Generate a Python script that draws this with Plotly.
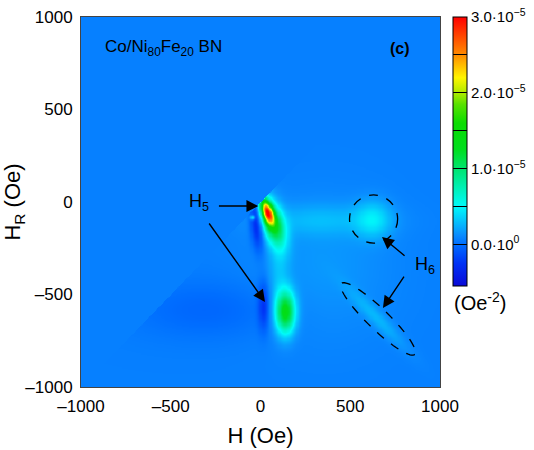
import numpy as np
import plotly.graph_objects as go

# ---------------- data (values in units of 1e-5 Oe^-2) ----------------
H_axis = np.linspace(-1000, 1000, 321)      # applied field H (Oe)
HR_axis = np.linspace(-1000, 1000, 321)     # reversal field H_R (Oe)
background_level = 0.07

# FORC features: centre H, centre H_R, amplitude,
# sigma along major axis, sigma along minor axis, major-axis angle (deg)
feat_H      = [35,   62,   -25,   15,   136,  -47,  330,  625,  100,  645,  350,  -300]
feat_HR     = [-50, -105, -110, -560,  -592,  -81,  -95,  -92, -330, -625, -350,  -580]
feat_amp    = [2.0,  1.15, -0.5, -0.3,  1.25, 0.55, 0.17, 0.3,  0.18, 0.17, 0.09, -0.1]
feat_smaj   = [48,   90,   95,    90,    80,   9,   240,   70,  170,  160,  260,   300]
feat_smin   = [21,   40,   24,    22,    38,   9,    60,   70,   40,   28,  260,   110]
feat_angle  = [-70, -72,  -85,  -90,   -90,   0,     0,    0,  -90,  -45,    0,     0]

x_ticks = [-1000, -500, 0, 500, 1000]
y_ticks = [-1000, -500, 0, 500, 1000]
cb_tickvals = [0, 0.5, 1.0, 1.5, 2.0, 2.5, 3.0]
cb_ticktext = ["0.0·10<sup>0</sup>", "", "1.0·10<sup>−5</sup>", "", "2.0·10<sup>−5</sup>", "", "3.0·10<sup>−5</sup>"]
z_min, z_max = -0.55, 3.0

# ---------------- build field ----------------
HH, RR = np.meshgrid(H_axis, HR_axis)
Z = np.full(HH.shape, background_level)
for hc, rc, a, smj, smn, ang in zip(feat_H, feat_HR, feat_amp, feat_smaj, feat_smin, feat_angle):
    t = np.deg2rad(ang)
    dx, dy = HH - hc, RR - rc
    u = dx * np.cos(t) + dy * np.sin(t)
    v = -dx * np.sin(t) + dy * np.cos(t)
    Z += a * np.exp(-0.5 * ((u / smj) ** 2 + (v / smn) ** 2))
Z[RR > HH] = background_level
Z = np.round(Z, 3)

def rgb(p, r, g, b):
    return [p, f"rgb({r},{g},{b})"]

def pos(v):
    return (v - z_min) / (z_max - z_min)

colorscale = [
    rgb(0.0, 10, 10, 215),
    rgb(pos(-0.25), 0, 50, 245),
    rgb(pos(0.0), 0, 110, 255),
    rgb(pos(0.12), 10, 140, 255),
    rgb(pos(0.5), 0, 250, 250),
    rgb(pos(0.75), 0, 240, 180),
    rgb(pos(1.0), 0, 228, 110),
    rgb(pos(1.25), 0, 222, 30),
    rgb(pos(1.6), 10, 220, 0),
    rgb(pos(1.85), 90, 225, 0),
    rgb(pos(2.0), 175, 235, 0),
    rgb(pos(2.2), 255, 245, 0),
    rgb(pos(2.5), 255, 140, 0),
    rgb(pos(2.75), 255, 70, 0),
    rgb(1.0, 255, 0, 0),
]

fig = go.Figure()
fig.add_trace(go.Heatmap(
    x=H_axis, y=HR_axis, z=Z, zmin=z_min, zmax=z_max, zsmooth="best",
    colorscale=colorscale, hoverinfo="skip",
    colorbar=dict(
        x=1.036, xanchor="left", xref="paper", y=1.0, yanchor="top",
        xpad=0, ypad=0,
        thickness=14, thicknessmode="pixels", len=269, lenmode="pixels",
        outlinecolor="black", outlinewidth=1,
        tickmode="array", tickvals=cb_tickvals, ticktext=cb_ticktext,
        ticks="inside", ticklen=14, tickcolor="black", tickwidth=1,
        tickfont=dict(size=15, color="black"),
    ),
))

font_family = "Liberation Sans, Arial, sans-serif"

# dashed circle around upper H6 feature
circ_H, circ_HR, circ_rH, circ_rHR = 630, -92, 134, 130
# dashed ellipse around lower H6 feature (pixel-space semi-axes and angle)
ell_H, ell_HR, ell_a_px, ell_b_px, ell_ang = 655, -632, 51, 10.5, 44
px_H, px_HR = 2000 / 359, 2000 / 370

shapes = [dict(type="circle", xref="x", yref="y",
               x0=circ_H - circ_rH, x1=circ_H + circ_rH,
               y0=circ_HR - circ_rHR, y1=circ_HR + circ_rHR,
               line=dict(color="black", width=1.3, dash="dash"))]
phi = np.linspace(0, 2 * np.pi, 73)
ang = np.deg2rad(ell_ang)
dxp = ell_a_px * np.cos(phi) * np.cos(ang) - ell_b_px * np.sin(phi) * np.sin(ang)
dyp = ell_a_px * np.cos(phi) * np.sin(ang) + ell_b_px * np.sin(phi) * np.cos(ang)
ex = ell_H + dxp * px_H
ey = ell_HR - dyp * px_HR
path = "M " + " L ".join(f"{a:.1f},{b:.1f}" for a, b in zip(ex, ey)) + " Z"
shapes.append(dict(type="path", xref="x", yref="y", path=path,
                   line=dict(color="black", width=1.3, dash="dash")))

annotations = []
# arrows: (tail H, tail HR, tip H, tip HR)
arrows = [(-240, -22, -12, -22), (-292, -108, 25, -540),
          (811, -297, 677, -189), (805, -395, 682, -573)]
for tx, ty, hx, hy in arrows:
    annotations.append(dict(x=hx, y=hy, ax=tx, ay=ty, xref="x", yref="y",
                            axref="x", ayref="y", showarrow=True, text="",
                            arrowhead=2, arrowsize=1.7, arrowwidth=1.4,
                            arrowcolor="black", standoff=0, startstandoff=0))
annotations += [
    dict(x=-340, y=0, xref="x", yref="y", text="H<sub>5</sub>", showarrow=False,
         xanchor="center", yanchor="middle", font=dict(size=18, color="black")),
    dict(x=916, y=-345, xref="x", yref="y", text="H<sub>6</sub>", showarrow=False,
         xanchor="center", yanchor="middle", font=dict(size=18, color="black")),
    dict(x=-880, y=832, xref="x", yref="y", xanchor="left", yanchor="middle",
         text="Co/Ni<sub>80</sub>Fe<sub>20</sub> BN", showarrow=False,
         font=dict(size=17, color="black")),
    dict(x=777, y=832, xref="x", yref="y", text="<b>(c)</b>", showarrow=False,
         xanchor="center", yanchor="middle", font=dict(size=16, color="black")),
    dict(x=1.111, y=0.23, xref="paper", yref="paper", text="(Oe<sup>-2</sup>)",
         xanchor="center", yanchor="middle",
         showarrow=False, font=dict(size=20, color="black")),
]

tick_text = [f"–{abs(v)}" if v < 0 else str(v) for v in x_ticks]
fig.update_layout(
    width=534, height=450,
    margin=dict(l=81, r=94, t=17, b=63, pad=0, autoexpand=False),
    paper_bgcolor="white", plot_bgcolor="white",
    font=dict(family=font_family, color="black"),
    shapes=shapes, annotations=annotations,
    xaxis=dict(range=[-1000, 1000], tickmode="array", tickvals=x_ticks, ticktext=tick_text,
               ticks="", showgrid=False, zeroline=False, showline=True, mirror=True,
               linecolor="#444", linewidth=1, tickfont=dict(size=17),
               ticklabelstandoff=4, automargin=False,
               title=dict(text="H (Oe)", font=dict(size=22), standoff=12)),
    yaxis=dict(range=[-1000, 1000], tickmode="array", tickvals=y_ticks,
               ticktext=[f"–{abs(v)}" if v < 0 else str(v) for v in y_ticks],
               ticks="", showgrid=False, zeroline=False, showline=True, mirror=True,
               linecolor="#444", linewidth=1, tickfont=dict(size=17),
               ticklabelstandoff=4, automargin=False,
               title=dict(text="H<sub>R</sub> (Oe)", font=dict(size=22), standoff=10)),
)

fig.write_html("out.html")
